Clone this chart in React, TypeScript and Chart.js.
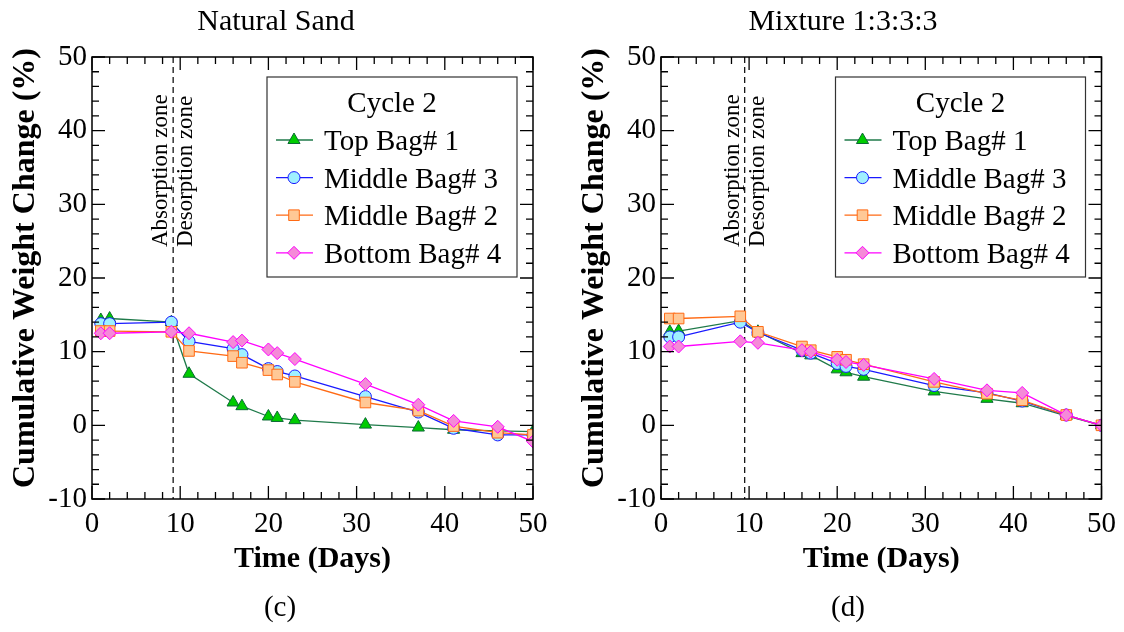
import React, { useEffect, useRef } from 'react';
import { Chart, registerables } from 'chart.js';

Chart.register(...registerables);

// ---------------- data ----------------
const days = [1, 2, 9, 11, 16, 17, 20, 21, 23, 31, 37, 41, 46, 50];
const seriesNames = ['Top Bag# 1', 'Middle Bag# 3', 'Middle Bag# 2', 'Bottom Bag# 4'];
const legendTitle = 'Cycle 2';

const sandTopBag1 = [14.3, 14.5, 14.0, 7.0, 3.1, 2.6, 1.2, 1.0, 0.7, 0.1, -0.3, -0.6, -0.75, -0.85];
const sandMiddleBag3 = [13.8, 13.8, 14.0, 11.4, 10.4, 9.6, 7.7, 7.3, 6.7, 3.9, 1.8, -0.4, -1.3, -1.3];
const sandMiddleBag2 = [12.8, 12.8, 12.7, 10.1, 9.4, 8.5, 7.5, 6.9, 5.9, 3.1, 2.0, -0.1, -1.0, -1.3];
const sandBottomBag4 = [12.5, 12.5, 12.7, 12.5, 11.3, 11.5, 10.3, 9.8, 9.0, 5.6, 2.8, 0.6, -0.2, -2.2];

const mixTopBag1 = [12.7, 12.8, 14.2, 12.7, 9.8, 9.5, 7.6, 7.2, 6.6, 4.6, 3.6, 3.0, 1.3, 0];
const mixMiddleBag3 = [12.0, 12.0, 14.0, 12.6, 10.2, 9.8, 8.4, 8.0, 7.6, 5.4, 4.4, 3.3, 1.4, 0];
const mixMiddleBag2 = [14.5, 14.5, 14.8, 12.7, 10.7, 10.2, 9.3, 8.9, 8.3, 5.9, 4.3, 3.4, 1.4, 0];
const mixBottomBag4 = [10.7, 10.7, 11.4, 11.2, 10.2, 10.0, 8.9, 8.6, 8.2, 6.3, 4.75, 4.4, 1.4, 0];

const xMin = 0;
const xMax = 50;
const xStep = 10;
const yMin = -10;
const yMax = 50;
const yStep = 10;
const minorStep = 2;

const xAxisTitle = 'Time (Days)';
const yAxisTitle = 'Cumulative Weight Change (%)';
const zoneLeftText = 'Absorption zone';
const zoneRightText = 'Desorption zone';

// ---------------- styles ----------------
const SERIF = '"Liberation Serif", "Times New Roman", Times, serif';

const seriesStyles = [
  { line: '#1f7a4a', fill: '#00cc00', border: '#0b6a35', shape: 'triangle', r: 7, order: 3 },
  { line: '#1a1aff', fill: '#9ff0ff', border: '#1a1aff', shape: 'circle', r: 6, order: 2 },
  { line: '#ff6a14', fill: '#ffc896', border: '#ff6a14', shape: 'rect', r: 7.5, order: 1 },
  { line: '#ff00ff', fill: '#f58ad8', border: '#ff00ff', shape: 'rectRot', r: 6.5, order: 0 },
];

function drawMarker(ctx: CanvasRenderingContext2D, shape: string, x: number, y: number, r: number, fill: string, stroke: string) {
  ctx.save();
  ctx.beginPath();
  if (shape === 'triangle') {
    for (let i = 0; i < 3; i++) {
      const a = (i * 2 * Math.PI) / 3;
      const px = x + Math.sin(a) * r;
      const py = y - Math.cos(a) * r;
      if (i === 0) ctx.moveTo(px, py);
      else ctx.lineTo(px, py);
    }
    ctx.closePath();
  } else if (shape === 'circle') {
    ctx.arc(x, y, r, 0, Math.PI * 2);
  } else if (shape === 'rect') {
    const s = r * Math.SQRT1_2;
    ctx.rect(x - s, y - s, 2 * s, 2 * s);
  } else {
    ctx.moveTo(x, y - r);
    ctx.lineTo(x + r, y);
    ctx.lineTo(x, y + r);
    ctx.lineTo(x - r, y);
    ctx.closePath();
  }
  ctx.fillStyle = fill;
  ctx.fill();
  ctx.lineWidth = 1;
  ctx.strokeStyle = stroke;
  ctx.stroke();
  ctx.restore();
}

const decorPlugin = {
  id: 'decor',
  beforeDatasetsDraw(chart: any, _args: any, opts: any) {
    const { ctx, chartArea: ca, scales } = chart;
    const px = scales.x.getPixelForValue(opts.dashDay);
    ctx.save();
    ctx.strokeStyle = '#000';
    ctx.lineWidth = 1.2;
    ctx.setLineDash([6, 4]);
    ctx.beginPath();
    ctx.moveTo(px, ca.top);
    ctx.lineTo(px, ca.bottom);
    ctx.stroke();
    ctx.setLineDash([]);
    ctx.fillStyle = '#000';
    ctx.font = `23px ${SERIF}`;
    ctx.textAlign = 'left';
    ctx.textBaseline = 'alphabetic';
    const y0 = scales.y.getPixelForValue(opts.zoneStart);
    ctx.save();
    ctx.translate(px - 6, y0);
    ctx.rotate(-Math.PI / 2);
    ctx.fillText(zoneLeftText, 0, 0);
    ctx.restore();
    ctx.save();
    ctx.translate(px + 19, y0);
    ctx.rotate(-Math.PI / 2);
    ctx.fillText(zoneRightText, 0, 0);
    ctx.restore();
    ctx.restore();
  },
  afterDatasetsDraw(chart: any) {
    const { ctx, chartArea: ca, scales } = chart;
    ctx.save();
    ctx.strokeStyle = '#000';
    ctx.lineWidth = 1.5;
    ctx.strokeRect(ca.left, ca.top, ca.right - ca.left, ca.bottom - ca.top);
    ctx.lineWidth = 1.3;
    ctx.beginPath();
    for (let v = xMin; v <= xMax + 1e-9; v += minorStep) {
      const p = scales.x.getPixelForValue(v);
      const L = v % xStep === 0 ? 13 : 7;
      ctx.moveTo(p, ca.bottom);
      ctx.lineTo(p, ca.bottom - L);
      ctx.moveTo(p, ca.top);
      ctx.lineTo(p, ca.top + L);
    }
    for (let v = yMin; v <= yMax + 1e-9; v += minorStep) {
      const p = scales.y.getPixelForValue(v);
      const L = v % yStep === 0 ? 13 : 7;
      ctx.moveTo(ca.left, p);
      ctx.lineTo(ca.left + L, p);
      ctx.moveTo(ca.right, p);
      ctx.lineTo(ca.right - L, p);
    }
    ctx.stroke();
    ctx.restore();
  },
  afterDraw(chart: any, _args: any, opts: any) {
    const { ctx, chartArea: ca } = chart;
    ctx.save();
    ctx.fillStyle = '#000';
    // chart title
    ctx.font = `30px ${SERIF}`;
    ctx.textAlign = 'center';
    ctx.textBaseline = 'alphabetic';
    ctx.fillText(opts.title, opts.titleX, 30);
    // panel label
    ctx.font = `29px ${SERIF}`;
    ctx.fillText(opts.label, opts.labelX, 616);
    // y axis title
    ctx.save();
    ctx.font = `bold 32px ${SERIF}`;
    ctx.textBaseline = 'middle';
    ctx.translate(ca.left - 66, 268);
    ctx.rotate(-Math.PI / 2);
    ctx.fillText(yAxisTitle, 0, 0);
    ctx.restore();

    // legend
    const bw = 250;
    const bh = 200;
    const bx = ca.right - 16 - bw;
    const by = ca.top + 20;
    ctx.fillStyle = '#fff';
    ctx.fillRect(bx, by, bw, bh);
    ctx.strokeStyle = '#333';
    ctx.lineWidth = 1.2;
    ctx.strokeRect(bx, by, bw, bh);
    ctx.fillStyle = '#000';
    ctx.font = `29px ${SERIF}`;
    ctx.textAlign = 'center';
    ctx.fillText(legendTitle, bx + bw / 2, by + 35);
    ctx.textAlign = 'left';
    chart.data.datasets.forEach((ds: any, i: number) => {
      const st = seriesStyles[i];
      const sy = by + 63 + i * 37.6;
      ctx.strokeStyle = st.line;
      ctx.lineWidth = 1.3;
      ctx.beginPath();
      ctx.moveTo(bx + 9, sy);
      ctx.lineTo(bx + 46, sy);
      ctx.stroke();
      drawMarker(ctx, st.shape, bx + 27, sy, st.r, st.fill, st.border);
      ctx.fillStyle = '#000';
      ctx.fillText(ds.label, bx + 57, sy + 10);
    });
    ctx.restore();
  },
};

type PanelProps = {
  left: number;
  title: string;
  titleX: number;
  label: string;
  labelX: number;
  series: number[][];
  dashDay: number;
  yAxisWidth: number;
  rightPad: number;
};

function Panel(props: PanelProps) {
  const ref = useRef<HTMLCanvasElement | null>(null);
  useEffect(() => {
    const canvas = ref.current;
    if (!canvas) return;
    const datasets = props.series.map((vals, i) => {
      const st = seriesStyles[i];
      return {
        label: seriesNames[i],
        data: days.map((d, k) => ({ x: d, y: vals[k] })),
        borderColor: st.line,
        borderWidth: 1.3,
        backgroundColor: st.fill,
        pointBackgroundColor: st.fill,
        pointBorderColor: st.border,
        pointBorderWidth: 1,
        pointStyle: st.shape,
        pointRadius: st.r,
        tension: 0,
        fill: false,
        order: st.order,
      };
    });
    const chart = new Chart(canvas, {
      type: 'line',
      data: { datasets },
      plugins: [decorPlugin],
      options: {
        responsive: false,
        animation: false,
        devicePixelRatio: 1,
        layout: { padding: { top: 57, right: props.rightPad, bottom: 0, left: 0 } },
        plugins: {
          legend: { display: false },
          tooltip: { enabled: false },
          decor: {
            title: props.title,
            titleX: props.titleX,
            label: props.label,
            labelX: props.labelX,
            dashDay: props.dashDay,
            zoneStart: 24.2,
          },
        } as any,
        scales: {
          x: {
            type: 'linear',
            min: xMin,
            max: xMax,
            ticks: {
              stepSize: xStep,
              color: '#000',
              padding: 8,
              font: { family: SERIF, size: 29 },
            },
            grid: { display: false, drawTicks: false },
            border: { display: false },
            title: {
              display: true,
              text: xAxisTitle,
              color: '#000',
              font: { family: SERIF, size: 30, weight: 'bold' },
              padding: { top: 0, bottom: 55 },
            },
            afterFit(scale: any) {
              scale.height = 133;
            },
          },
          y: {
            type: 'linear',
            min: yMin,
            max: yMax,
            ticks: {
              stepSize: yStep,
              color: '#000',
              padding: 5,
              font: { family: SERIF, size: 29 },
            },
            grid: { display: false, drawTicks: false },
            border: { display: false },
            afterFit(scale: any) {
              scale.width = props.yAxisWidth;
            },
          },
        },
      } as any,
    });
    return () => chart.destroy();
  }, []);
  return (
    <canvas
      ref={ref}
      width={562}
      height={632}
      style={{ position: 'absolute', left: props.left, top: 0, width: 562, height: 632 }}
    />
  );
}

export default function App() {
  return (
    <div style={{ position: 'fixed', left: 0, top: 0, width: 1124, height: 632, background: '#fff', overflow: 'hidden' }}>
      <Panel
        left={0}
        title="Natural Sand"
        titleX={276}
        label="(c)"
        labelX={280}
        series={[sandTopBag1, sandMiddleBag3, sandMiddleBag2, sandBottomBag4]}
        dashDay={9.2}
        yAxisWidth={92}
        rightPad={29}
      />
      <Panel
        left={562}
        title="Mixture 1:3:3:3"
        titleX={281}
        label="(d)"
        labelX={286}
        series={[mixTopBag1, mixMiddleBag3, mixMiddleBag2, mixBottomBag4]}
        dashDay={9.5}
        yAxisWidth={99}
        rightPad={20}
      />
    </div>
  );
}
